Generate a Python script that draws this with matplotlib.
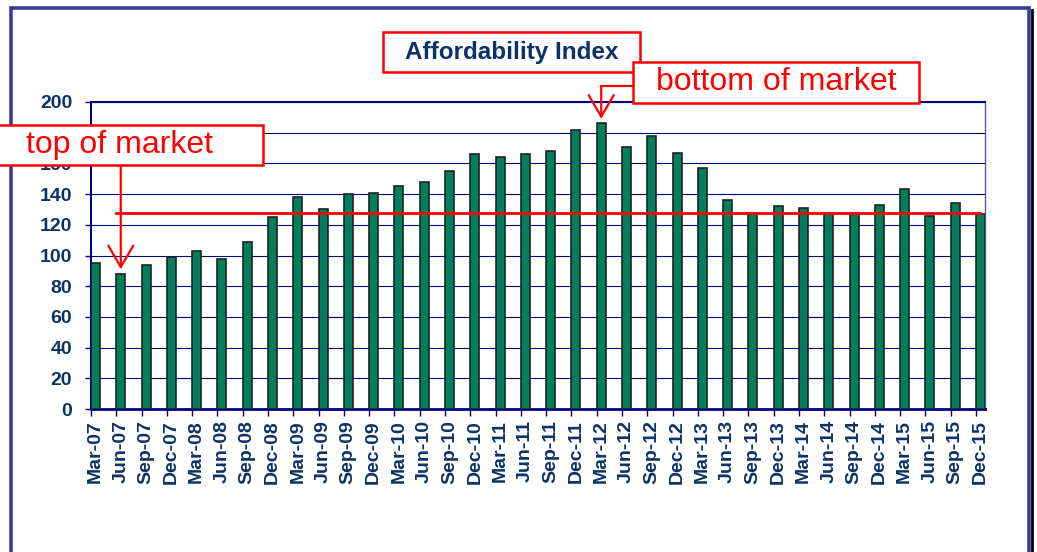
#!/usr/bin/env python3
# -*- coding: utf-8 -*-
"""
affordability index, quarterly bars 2007-2015, with the market top / bottom callouts
"""

#%% imports and data
import numpy as np
import matplotlib
matplotlib.use("Agg")
import matplotlib.pyplot as plt
from matplotlib.patches import Rectangle
from matplotlib.lines import Line2D

quarters = ["Mar", "Jun", "Sep", "Dec"]
years = ["07", "08", "09", "10", "11", "12", "13", "14", "15"]
labels = [q + "-" + y for y in years for q in quarters]

index_values = [95, 88, 94, 99, 103, 98, 109, 125, 138, 130, 140, 141,
                145, 148, 155, 166, 164, 166, 168, 182, 186, 171, 178, 167,
                157, 136, 128, 132, 131, 128, 128, 133, 143, 126, 134, 127]
ref_level = 127.5          # red horizontal line
top_label, bottom_label = "Jun-07", "Mar-12"

#%% styling
plt.rcParams["font.family"] = ["Liberation Sans", "DejaVu Sans"]
navy = "#000080"
text_col = "#0b3366"
frame_col = "#3b3b9e"
red = "#ff0000"

W, H = 1037, 552
fig = plt.figure(figsize=(W / 100, H / 100), dpi=100)

def fx(px):
    return px / W

def fy(py):
    return 1 - py / H

# plot area in pixel terms
ax = fig.add_axes([fx(91), fy(409), fx(985) - fx(91), fy(102) - fy(409)])

x = np.arange(len(index_values))
w = 0.356
ax.bar(x, index_values, width=w, align="edge", color="#00805a",
       edgecolor="#222222", linewidth=1.2, zorder=3)

ax.set_xlim(0, x[-1] + w)
ax.set_ylim(0, 200)

ax.set_yticks(np.arange(0, 201, 20))
ax.yaxis.grid(True, color=navy, linewidth=0.8, zorder=0)
ax.set_axisbelow(True)
ax.tick_params(axis="y", labelsize=14, colors=navy, labelcolor=text_col,
               length=4.5, width=1, pad=9)
for t in ax.get_yticklabels():
    t.set_fontweight("bold")

ax.set_xticks(x + w / 2)
ax.set_xticklabels(labels, rotation=90, fontsize=14, fontweight="bold",
                   color=text_col)
ax.set_xticks(x, minor=True)
ax.tick_params(axis="x", which="major", length=0, pad=8)
ax.tick_params(axis="x", which="minor", length=5, width=1, colors=navy)

for side in ["left", "top"]:
    ax.spines[side].set_color(navy)
    ax.spines[side].set_linewidth(1.5)
ax.spines["bottom"].set_color(navy)
ax.spines["bottom"].set_linewidth(2)
ax.spines["right"].set_color("#5555aa")
ax.spines["right"].set_linewidth(1)

# reference line
ax.plot([1, x[-1] + w / 2], [ref_level, ref_level], color=red, lw=2, zorder=4,
        clip_on=False)

#%% outer frame
fig.add_artist(Line2D([fx(1032), fx(1032)], [fy(10), fy(560)], color="black",
                      lw=2, transform=fig.transFigure))
fig.add_artist(Line2D([fx(10.5), fx(10.5), fx(1028.5), fx(1028.5)],
                      [fy(560), fy(7.5), fy(7.5), fy(560)], color=frame_col,
                      lw=2.6, transform=fig.transFigure, solid_joinstyle="miter"))

#%% callout boxes
def box(x0, y0, x1, y1, txt, tx, size, weight="normal", color=red, ha="center"):
    fig.add_artist(Rectangle((fx(x0), fy(y1)), fx(x1) - fx(x0), fy(y0) - fy(y1),
                             transform=fig.transFigure, facecolor="white",
                             edgecolor=red, lw=1.8, zorder=10))
    fig.text(fx(tx), fy((y0 + y1) / 2), txt, ha=ha, va="center", fontsize=size,
             fontweight=weight, color=color, zorder=11)

box(383, 32, 640, 72, "Affordability Index", 512, 17.5, weight="bold",
    color=text_col)
box(633, 62, 919, 103, "bottom of market", 776, 23)
box(-10, 125, 263, 165, "top of market", 119, 23)

head = dict(arrowstyle="->,head_length=1.55,head_width=0.9", mutation_scale=10,
            color=red, lw=1.6, shrinkA=0, shrinkB=0)

# top of market arrow: from box bottom down to the Jun-07 bar
i_top = labels.index(top_label)
ax.annotate("", xy=(i_top + w / 2, index_values[i_top] + 3),
            xytext=(i_top + w / 2, 159), arrowprops=head,
            annotation_clip=False, zorder=12)

# bottom of market arrow: elbow from box left edge down to the Mar-12 bar
i_bot = labels.index(bottom_label)
trans = ax.transData
corner_y = 210
fig.add_artist(Line2D([fx(633), trans.transform((i_bot + w / 2, 0))[0] / W],
                      [fy(86), fy(86)], color=red, lw=1.6,
                      transform=fig.transFigure, zorder=12))
ax.annotate("", xy=(i_bot + w / 2, index_values[i_bot] + 3),
            xytext=(i_bot + w / 2, corner_y), arrowprops=head,
            annotation_clip=False, zorder=12)

fig.savefig("out.png", dpi=100)
